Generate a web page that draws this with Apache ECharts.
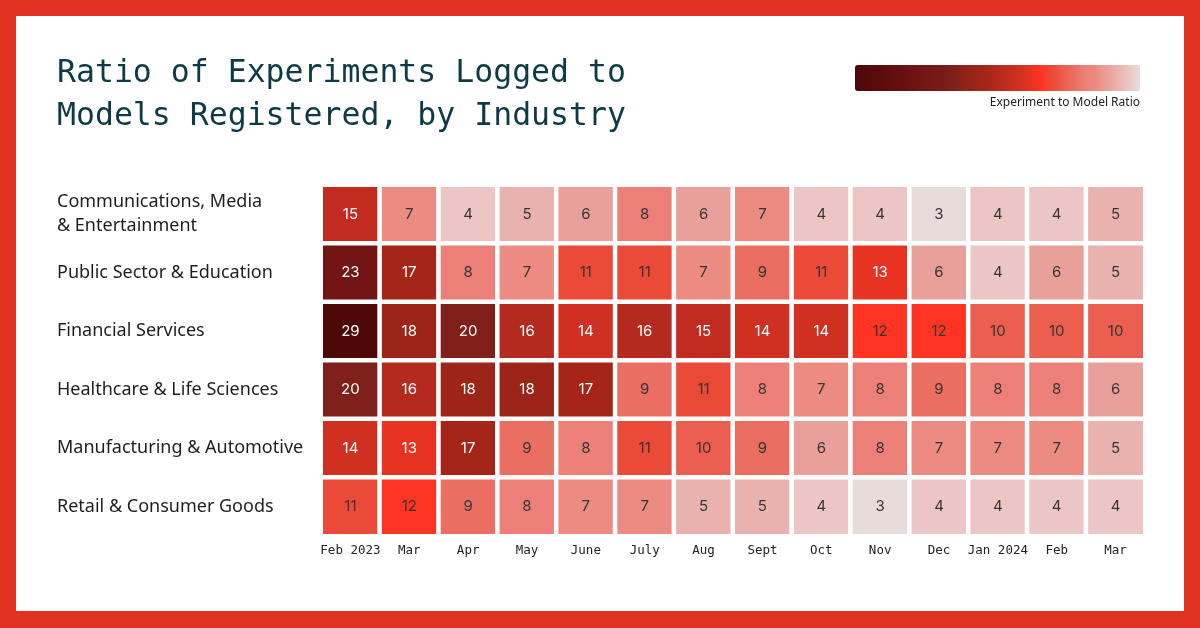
<!DOCTYPE html>
<html>
<head>
<meta charset="utf-8">
<script src="https://cdn.jsdelivr.net/npm/echarts@6/dist/echarts.min.js"></script>
<style>
  html, body { margin: 0; padding: 0; }
  #chart { width: 1200px; height: 628px; }
</style>
</head>
<body>
<div id="chart"></div>
<script>
const months = ['Feb 2023', 'Mar', 'Apr', 'May', 'June', 'July', 'Aug', 'Sept', 'Oct', 'Nov', 'Dec', 'Jan 2024', 'Feb', 'Mar']
const industries = [
  'Communications, Media\n& Entertainment',
  'Public Sector & Education',
  'Financial Services',
  'Healthcare & Life Sciences',
  'Manufacturing & Automotive',
  'Retail & Consumer Goods'
]
const commMedia = [15, 7, 4, 5, 6, 8, 6, 7, 4, 4, 3, 4, 4, 5]
const publicSector = [23, 17, 8, 7, 11, 11, 7, 9, 11, 13, 6, 4, 6, 5]
const financial = [29, 18, 20, 16, 14, 16, 15, 14, 14, 12, 12, 10, 10, 10]
const healthcare = [20, 16, 18, 18, 17, 9, 11, 8, 7, 8, 9, 8, 8, 6]
const manufacturing = [14, 13, 17, 9, 8, 11, 10, 9, 6, 8, 7, 7, 7, 5]
const retail = [11, 12, 9, 8, 7, 7, 5, 5, 4, 3, 4, 4, 4, 4]
const rows = [commMedia, publicSector, financial, healthcare, manufacturing, retail]

// one colour stop per integer ratio 3..29
const ramp = [
  '#e8dcdb', '#ecc6c4', '#eab2ae', '#eaa09a', '#ec8b82', '#ec8078', '#ea6e62',
  '#ec5e4e', '#ec4a38', '#ff3422', '#e83222', '#d03022', '#c22c20', '#b52a1e',
  '#a52519', '#9c2419', '#8e221a', '#80201a', '#7a1b18', '#761816', '#731515',
  '#6b1212', '#640f0f', '#5e0d0d', '#580b0b', '#530909', '#4e0808'
]

const cells = []
rows.forEach((row, y) => {
  row.forEach((v, x) => {
    cells.push({
      value: [x, y, v],
      label: { color: v > 12 ? '#ffffff' : '#353535' }
    })
  })
})

const chart = echarts.init(document.getElementById('chart'))
const option = {
  backgroundColor: '#e0301f',
  animation: false,
  graphic: [
    {
      type: 'rect',
      z: -10,
      shape: { x: 16, y: 16, width: 1168, height: 595 },
      style: { fill: '#ffffff' }
    },
    {
      type: 'text',
      right: 60,
      top: 97,
      z: 100,
      style: {
        text: 'Experiment to Model Ratio',
        fill: '#222222',
        font: '12px "Noto Sans"',
        textAlign: 'right'
      }
    }
  ],
  title: {
    text: 'Ratio of Experiments Logged to\nModels Registered, by Industry',
    left: 52,
    top: 47,
    textStyle: {
      fontFamily: '"DejaVu Sans Mono"',
      fontSize: 31.5,
      fontWeight: 'normal',
      lineHeight: 43,
      color: '#0d3a48'
    }
  },
  grid: {
    left: 321,
    right: 55,
    top: 185,
    bottom: 92
  },
  xAxis: {
    type: 'category',
    data: months,
    axisLine: { show: false },
    axisTick: { show: false },
    splitLine: { show: false },
    axisLabel: {
      margin: 8,
      interval: 0,
      fontFamily: '"DejaVu Sans Mono"',
      fontSize: 12.5,
      color: '#222222'
    }
  },
  yAxis: {
    type: 'category',
    data: industries,
    inverse: true,
    axisLine: { show: false },
    axisTick: { show: false },
    splitLine: { show: false },
    axisLabel: {
      align: 'left',
      margin: 264,
      fontFamily: '"Noto Sans"',
      fontSize: 18,
      lineHeight: 24,
      color: '#1e1e1e'
    }
  },
  visualMap: {
    type: 'continuous',
    min: 3,
    max: 29,
    orient: 'horizontal',
    inverse: true,
    left: 840,
    top: 50,
    itemWidth: 26,
    itemHeight: 285,
    calculable: false,
    showLabel: false,
    text: null,
    dimension: 2,
    inRange: { color: ramp }
  },
  series: [
    {
      type: 'heatmap',
      data: cells,
      itemStyle: {
        borderColor: '#ffffff',
        borderWidth: 4.5
      },
      label: {
        show: true,
        fontFamily: 'Inter',
        fontSize: 15,
        formatter: (p) => p.value[2]
      }
    }
  ]
}
chart.setOption(option)
</script>
</body>
</html>
